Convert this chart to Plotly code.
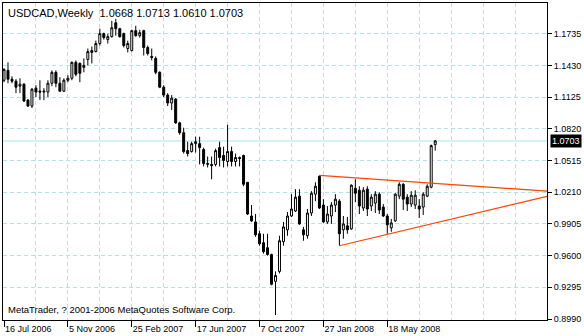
import plotly.graph_objects as go
import pandas as pd

start_week = "2006-07-16"
opens = [1.1287,1.1382,1.1297,1.1278,1.1230,1.1249,1.1096,1.1039,1.1211,1.1182,
         1.1173,1.1173,1.1258,1.1363,1.1258,1.1182,1.1287,1.1306,1.1459,1.1449,
         1.1411,1.1487,1.1573,1.1563,1.1640,1.1735,1.1678,1.1706,1.1840,1.1783,
         1.1735,1.1592,1.1573,1.1764,1.1716,1.1764,1.1602,1.1516,1.1497,1.1363,
         1.1220,1.1144,1.1068,1.1106,1.0877,1.0782,1.0610,1.0601,1.0677,1.0677,
         1.0620,1.0477,1.0477,1.0477,1.0639,1.0563,1.0505,1.0601,1.0505,1.0544,
         1.0563,1.0305,0.9981,0.9924,0.9810,0.9724,0.9676,0.9610,0.9352,0.9448,
         0.9734,0.9848,0.9981,1.0029,1.0172,0.9848,0.9791,1.0010,1.0191,1.0363,
         1.0086,0.9924,0.9981,1.0086,1.0124,0.9848,0.9886,0.9857,1.0248,1.0229,
         1.0058,1.0239,1.0077,1.0105,1.0191,1.0067,0.9981,0.9867,0.9934,1.0172,
         1.0286,1.0162,1.0096,1.0086,1.0077,1.0067,1.0172,1.0258,1.0668]
highs = [1.1401,1.1459,1.1325,1.1297,1.1306,1.1258,1.1106,1.1211,1.1239,1.1287,
         1.1211,1.1287,1.1382,1.1382,1.1316,1.1306,1.1335,1.1468,1.1478,1.1459,
         1.1497,1.1592,1.1611,1.1668,1.1783,1.1745,1.1735,1.1859,1.1878,1.1792,
         1.1745,1.1668,1.1773,1.1811,1.1773,1.1773,1.1621,1.1592,1.1516,1.1373,
         1.1239,1.1163,1.1144,1.1115,1.0887,1.0830,1.0696,1.0696,1.0744,1.0744,
         1.0639,1.0553,1.0553,1.0629,1.0696,1.0648,1.0858,1.0648,1.0582,1.0553,
         1.0572,1.0305,1.0086,1.0000,0.9838,0.9810,0.9810,0.9619,0.9448,0.9791,
         0.9924,1.0019,1.0191,1.0239,1.0239,0.9876,1.0048,1.0220,1.0305,1.0372,
         1.0143,1.0077,1.0115,1.0191,1.0143,0.9981,0.9972,1.0286,1.0334,1.0267,
         1.0258,1.0267,1.0191,1.0220,1.0210,1.0096,1.0000,0.9953,1.0200,1.0305,
         1.0296,1.0191,1.0220,1.0229,1.0143,1.0210,1.0286,1.0668,1.0713]
lows = [1.1268,1.1258,1.1258,1.1163,1.1163,1.1077,1.1030,1.1020,1.1125,1.1096,
        1.1096,1.1125,1.1230,1.1220,1.1173,1.1173,1.1268,1.1287,1.1325,1.1268,
        1.1363,1.1430,1.1449,1.1554,1.1621,1.1678,1.1640,1.1697,1.1716,1.1697,
        1.1602,1.1554,1.1563,1.1706,1.1697,1.1525,1.1525,1.1478,1.1344,1.1211,
        1.1125,1.1039,1.1001,1.0868,1.0763,1.0582,1.0553,1.0591,1.0591,1.0477,
        1.0458,1.0448,1.0334,1.0458,1.0458,1.0448,1.0458,1.0458,1.0458,1.0458,
        1.0267,0.9991,0.9924,0.9781,0.9695,0.9619,0.9600,0.9314,0.9028,0.9429,
        0.9695,0.9791,0.9972,1.0019,0.9896,0.9743,0.9762,0.9981,1.0124,1.0048,
        0.9915,0.9905,0.9905,1.0019,0.9695,0.9762,0.9810,0.9848,1.0115,1.0000,
        1.0029,0.9981,1.0029,1.0010,1.0000,0.9972,0.9810,0.9829,0.9924,1.0143,
        1.0038,1.0029,1.0067,1.0048,0.9962,0.9991,1.0162,1.0248,1.0610]
closes = [1.1392,1.1297,1.1278,1.1220,1.1249,1.1087,1.1039,1.1201,1.1173,1.1173,
          1.1182,1.1258,1.1363,1.1258,1.1182,1.1287,1.1306,1.1459,1.1344,1.1354,
          1.1430,1.1563,1.1554,1.1640,1.1735,1.1697,1.1706,1.1792,1.1783,1.1706,
          1.1621,1.1640,1.1764,1.1716,1.1745,1.1602,1.1544,1.1506,1.1363,1.1220,
          1.1144,1.1068,1.1115,1.0877,1.0782,1.0601,1.0582,1.0677,1.0696,1.0639,
          1.0486,1.0486,1.0467,1.0610,1.0544,1.0515,1.0601,1.0505,1.0544,1.0534,
          1.0286,1.0000,0.9934,0.9800,0.9714,0.9638,0.9610,0.9324,0.9409,0.9743,
          0.9876,0.9981,1.0048,1.0162,0.9905,0.9800,1.0010,1.0200,1.0267,1.0058,
          0.9924,1.0000,1.0086,1.0143,0.9810,0.9905,0.9848,1.0277,1.0200,1.0077,
          1.0229,1.0048,1.0162,1.0191,1.0038,0.9981,0.9896,0.9915,1.0191,1.0286,
          1.0143,1.0096,1.0181,1.0181,1.0048,1.0191,1.0267,1.0658,1.0703]

date_ticks = ["2006-07-16", "2006-11-05", "2007-02-25", "2007-06-17",
              "2007-10-07", "2008-01-27", "2008-05-18"]
date_labels = ["16 Jul 2006", "5 Nov 2006", "25 Feb 2007", "17 Jun 2007",
               "7 Oct 2007", "27 Jan 2008", "18 May 2008"]
price_ticks = [0.8990, 0.9295, 0.9600, 0.9905, 1.0210, 1.0515, 1.0820, 1.1125, 1.1430, 1.1735]

upper_x = ["2008-01-20", "2009-02-22"]
upper_y = [1.0372, 1.0220]
lower_x = ["2008-02-24", "2009-02-22"]
lower_y = [0.9695, 1.0169]

bid = 1.0703
title_text = "USDCAD,Weekly  1.0668 1.0713 1.0610 1.0703"
copyright_text = "MetaTrader, ? 2001-2006 MetaQuotes Software Corp."

dates = pd.date_range(start_week, periods=len(opens), freq="7D")

FONT = "Liberation Sans, Arial, sans-serif"
GRID = "#b2e2e2"
TREND = "#ff4500"

fig = go.Figure()
fig.add_trace(go.Candlestick(
    x=dates, open=opens, high=highs, low=lows, close=closes,
    increasing=dict(line=dict(color="black", width=1), fillcolor="white"),
    decreasing=dict(line=dict(color="black", width=1), fillcolor="black"),
    whiskerwidth=0, showlegend=False, hoverinfo="skip",
))
fig.add_trace(go.Scatter(x=upper_x, y=upper_y, mode="lines",
                         line=dict(color=TREND, width=1.2), showlegend=False, hoverinfo="skip"))
fig.add_trace(go.Scatter(x=lower_x, y=lower_y, mode="lines",
                         line=dict(color=TREND, width=1.2), showlegend=False, hoverinfo="skip"))

fig.add_hline(y=bid, line=dict(color="#a6e8ea", width=1), layer="below")

fig.update_layout(
    width=584, height=336,
    margin=dict(l=2, r=37, t=2, b=14),
    paper_bgcolor="white", plot_bgcolor="white",
    font=dict(family=FONT, size=9, color="black"),
    showlegend=False,
    xaxis=dict(
        type="date",
        range=["2006-07-14 06:00", "2009-02-22"],
        rangeslider=dict(visible=False),
        tickvals=date_ticks, ticktext=date_labels,
        ticks="outside", ticklen=6, tickcolor="black",
        ticklabelposition="outside right",
        showgrid=True, gridcolor=GRID, griddash="4px,3px", gridwidth=1,
        minor=dict(showgrid=True, gridcolor=GRID, griddash="4px,3px",
                   tick0=start_week, dtick=8 * 7 * 86400000, ticks=""),
        showline=True, mirror=True, linecolor="black", linewidth=1,
        zeroline=False, fixedrange=True,
        tickfont=dict(family=FONT, size=9),
    ),
    yaxis=dict(
        side="right",
        range=[0.89805, 1.2030],
        tickvals=price_ticks, tickformat=".4f",
        ticks="outside", ticklen=4, tickcolor="black",
        showgrid=True, gridcolor=GRID, griddash="4px,3px", gridwidth=1,
        showline=True, mirror=True, linecolor="black", linewidth=1,
        zeroline=False, fixedrange=True,
        tickfont=dict(family=FONT, size=9),
    ),
    annotations=[
        dict(text=title_text, xref="paper", yref="paper", x=0.005, y=0.995,
             xanchor="left", yanchor="top", showarrow=False,
             font=dict(family=FONT, size=11, color="black")),
        dict(text=copyright_text, xref="paper", yref="paper", x=0.005, y=0.008,
             xanchor="left", yanchor="bottom", showarrow=False,
             font=dict(family=FONT, size=9.5, color="black")),
        dict(text="1.0703", xref="paper", yref="y", x=1, y=bid,
             xanchor="left", yanchor="middle", xshift=3, showarrow=False,
             bgcolor="black", borderpad=1,
             font=dict(family=FONT, size=9, color="white")),
    ],
)

fig.write_html("out.html")
